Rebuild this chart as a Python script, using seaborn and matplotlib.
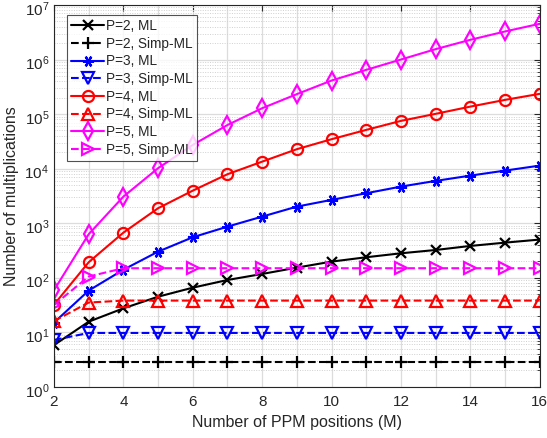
import numpy as np
import pandas as pd
import matplotlib
matplotlib.use("Agg")
import matplotlib.pyplot as plt
import matplotlib.transforms as mtransforms
import seaborn as sns
from matplotlib.ticker import LogLocator, FixedLocator, FixedFormatter

M = list(range(2, 17))

p2_ml = [5.8, 15.6, 27.4, 44.8, 65.6, 90.7, 117, 153, 197, 237, 280, 322, 382, 439, 500]
p2_simp = [2.9] * 15
p3_ml = [15, 58, 140, 300, 551, 863, 1318, 2010, 2670, 3534, 4680, 5950, 7440, 9190, 11350]
p3_simp = [7.2] + [9.7] * 14
p4_ml = [32, 192, 670, 1877, 3945, 7890, 13430, 22700, 34600, 51300, 75000, 101000, 137000, 182000, 235000]
p4_simp = [16, 35] + [38] * 13
p5_ml = [59, 626, 3064, 10170, 27200, 63000, 128000, 232000, 412000, 647000, 1.0e6, 1.55e6, 2.3e6, 3.27e6, 4.52e6]
p5_simp = [31.6, 105] + [149] * 13

labels = ["P=2, ML", "P=2, Simp-ML", "P=3, ML", "P=3, Simp-ML",
          "P=4, ML", "P=4, Simp-ML", "P=5, ML", "P=5, Simp-ML"]
series = [p2_ml, p2_simp, p3_ml, p3_simp, p4_ml, p4_simp, p5_ml, p5_simp]
colors = ["black", "black", "blue", "blue", "red", "red", "magenta", "magenta"]
markers = ["x", "+", (6, 2, 90), "v", "o", "^", "d", ">"]
styles = ["-", "--"] * 4
msizes = [7, 9, 8, 8, 8, 8, 9, 8]

sns.set_style("white")
plt.rcParams['font.family'] = ['Liberation Sans', 'DejaVu Sans']
plt.rcParams['mathtext.fontset'] = 'custom'
plt.rcParams['mathtext.rm'] = 'Liberation Sans'
plt.rcParams['mathtext.it'] = 'Liberation Sans'

fig = plt.figure(figsize=(5.47, 4.38), dpi=100)
ax = fig.add_axes([0.0987, 0.117, 0.888, 0.8716])

for lab, vals, c, mk, ls, ms in zip(labels, series, colors, markers, styles, msizes):
    df = pd.DataFrame({"M": M, "v": vals})
    face = c if mk in ("x", "+") or isinstance(mk, tuple) else "none"
    sns.lineplot(data=df, x="M", y="v", ax=ax, color=c, marker=mk, linestyle=ls,
                 linewidth=1.5, markersize=ms, markerfacecolor=face,
                 markeredgecolor=c, markeredgewidth=1.6, label=lab,
                 dashes=(4, 2.5) if ls == "--" else "")

ax.set_yscale("log")
ax.set_xlim(2, 16)
ax.set_ylim(1, 1e7)
ax.set_xticks([2, 4, 6, 8, 10, 12, 14, 16])
ax.set_xticks(range(2, 17), minor=True)
ax.yaxis.set_major_locator(FixedLocator([10.0 ** k for k in range(8)]))
ax.yaxis.set_major_formatter(FixedFormatter([r"$10^{%d}$" % k for k in range(8)]))
ax.yaxis.set_minor_locator(LogLocator(base=10, subs=np.arange(2, 10), numticks=20))

ax.grid(True, which="major", color="#dcdcdc", linewidth=0.9, linestyle="-")
ax.grid(True, which="minor", axis="y", color="#d0d0d0", linewidth=0.7, linestyle=(0, (1, 1.5)))
ax.grid(True, which="minor", axis="x", color="#dcdcdc", linewidth=0.9, linestyle="-")
ax.set_axisbelow(True)

for s in ax.spines.values():
    s.set_color("#262626")
    s.set_linewidth(0.8)
ax.tick_params(which="both", direction="in", top=True, right=True, colors="#262626",
               labelsize=11)
ax.tick_params(which="major", length=4)
ax.tick_params(which="minor", length=2)
ax.tick_params(axis="x", which="minor", length=0)
ax.tick_params(axis="x", which="major", pad=6)

shift = mtransforms.ScaledTranslation(0, -3 / 100, fig.dpi_scale_trans)
for lbl in ax.get_yticklabels():
    lbl.set_transform(lbl.get_transform() + shift)

ax.set_xlabel("Number of PPM positions (M)", fontsize=11.5, color="#262626")
ax.set_ylabel("Number of multiplications", fontsize=11.5, color="#262626")

leg = ax.legend(loc="upper left", bbox_to_anchor=(0.027, 0.974), fontsize=9.8,
                frameon=True, fancybox=False, edgecolor="#262626",
                handlelength=2.4, borderpad=0.3, labelspacing=0.27,
                handletextpad=0.15, borderaxespad=0.0)
leg.get_frame().set_linewidth(0.8)

fig.savefig("out.png", dpi=100)
